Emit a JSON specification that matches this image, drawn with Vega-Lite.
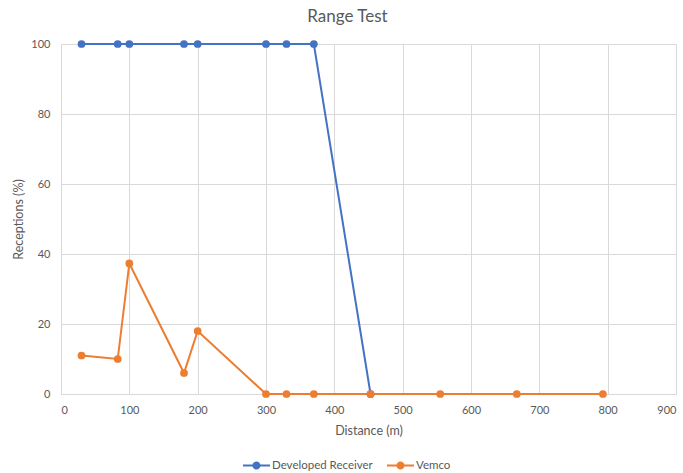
{
  "$schema": "https://vega.github.io/schema/vega-lite/v6.json",
  "width": 615,
  "height": 350,
  "autosize": "none",
  "padding": {"left": 61, "top": 44, "right": 7, "bottom": 79},
  "background": "white",
  "title": {
    "text": "Range Test",
    "font": "Lato",
    "fontSize": 17,
    "fontWeight": "normal",
    "color": "#595959",
    "anchor": "middle",
    "dx": -21,
    "offset": 12
  },
  "config": {
    "view": {"stroke": null},
    "font": "Lato",
    "axis": {
      "labelFont": "Lato",
      "labelFontSize": 11,
      "labelColor": "#595959",
      "titleFont": "Lato",
      "titleFontSize": 12.5,
      "titleFontWeight": "normal",
      "titleColor": "#595959",
      "gridColor": "#D9D9D9",
      "gridWidth": 1,
      "ticks": false
    }
  },
  "data": {
    "values": [
      {"series": "Developed Receiver", "distance": 30, "receptions": 100},
      {"series": "Developed Receiver", "distance": 83, "receptions": 100},
      {"series": "Developed Receiver", "distance": 100, "receptions": 100},
      {"series": "Developed Receiver", "distance": 180, "receptions": 100},
      {"series": "Developed Receiver", "distance": 200, "receptions": 100},
      {"series": "Developed Receiver", "distance": 300, "receptions": 100},
      {"series": "Developed Receiver", "distance": 330, "receptions": 100},
      {"series": "Developed Receiver", "distance": 370, "receptions": 100},
      {"series": "Developed Receiver", "distance": 453, "receptions": 0},
      {"series": "Vemco", "distance": 30, "receptions": 11},
      {"series": "Vemco", "distance": 83, "receptions": 10},
      {"series": "Vemco", "distance": 100, "receptions": 37.3},
      {"series": "Vemco", "distance": 180, "receptions": 6},
      {"series": "Vemco", "distance": 200, "receptions": 18},
      {"series": "Vemco", "distance": 300, "receptions": 0},
      {"series": "Vemco", "distance": 330, "receptions": 0},
      {"series": "Vemco", "distance": 370, "receptions": 0},
      {"series": "Vemco", "distance": 453, "receptions": 0},
      {"series": "Vemco", "distance": 555, "receptions": 0},
      {"series": "Vemco", "distance": 667, "receptions": 0},
      {"series": "Vemco", "distance": 793, "receptions": 0}
    ]
  },
  "encoding": {
    "x": {
      "field": "distance",
      "type": "quantitative",
      "title": "Distance (m)",
      "scale": {"domain": [0, 900], "nice": false},
      "axis": {
        "values": [0, 100, 200, 300, 400, 500, 600, 700, 800, 900],
        "domainColor": "#D9D9D9",
        "labelPadding": 10,
        "titlePadding": 9
      }
    },
    "y": {
      "field": "receptions",
      "type": "quantitative",
      "title": "Receptions (%)",
      "scale": {"domain": [0, 100], "nice": false},
      "axis": {
        "values": [0, 20, 40, 60, 80, 100],
        "domain": false,
        "labelPadding": 11,
        "titlePadding": 5
      }
    },
    "color": {
      "field": "series",
      "type": "nominal",
      "scale": {
        "domain": ["Developed Receiver", "Vemco"],
        "range": ["#4472C4", "#ED7D31"]
      },
      "legend": {
        "title": null,
        "orient": "none",
        "direction": "horizontal",
        "legendX": 182,
        "legendY": 408,
        "labelFont": "Lato",
        "labelFontSize": 11.5,
        "labelColor": "#595959",
        "labelOffset": 2,
        "columnPadding": 14,
        "symbolSize": 729,
        "symbolType": "M-1,-0.074 L1,-0.074 L1,0.074 L-1,0.074 Z M0.3,0 A0.3,0.3 0 1,1 -0.3,0 A0.3,0.3 0 1,1 0.3,0 Z",
        "symbolStrokeWidth": 0
      }
    }
  },
  "layer": [
    {"mark": {"type": "line", "strokeWidth": 2}},
    {"mark": {"type": "point", "filled": true, "opacity": 1, "size": 60}}
  ]
}
